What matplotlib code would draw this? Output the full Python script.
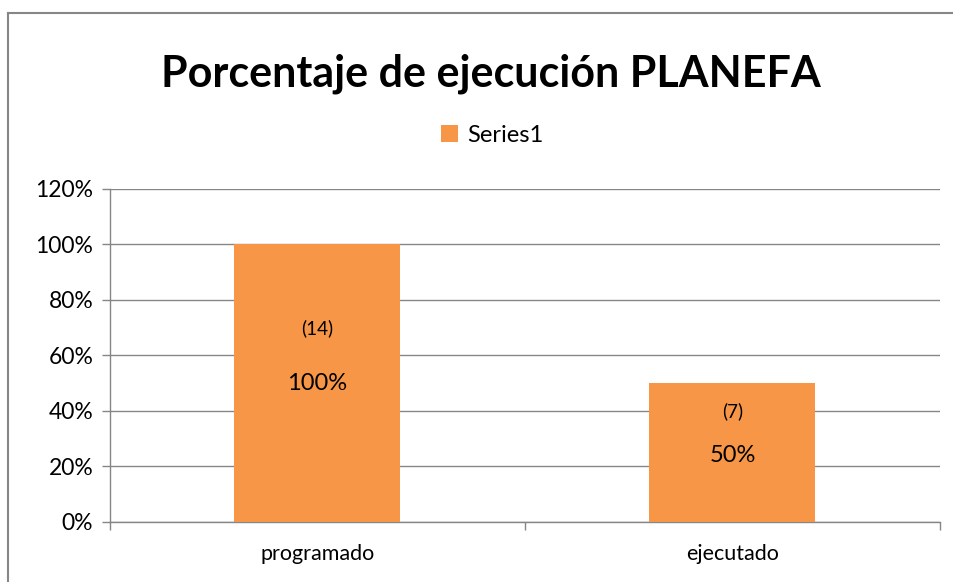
import matplotlib.pyplot as plt
import numpy as np
from matplotlib.lines import Line2D
from matplotlib.ticker import FuncFormatter

categories = ["programado", "ejecutado"]
values = [1.00, 0.50]
counts = ["(14)", "(7)"]
pct_labels = ["100%", "50%"]
# where the two labels sit inside each bar, as share of the bar height
count_pos = [0.70, 0.80]
pct_pos = [0.50, 0.48]
yticks = [0, 0.2, 0.4, 0.6, 0.8, 1.0, 1.2]

plt.rcParams['font.family'] = ['Lato', 'DejaVu Sans']

bar_color = "#F79646"
grey = "#868686"

fig = plt.figure(figsize=(9.54, 5.82), dpi=100)
ax = fig.add_axes([0.1153, 0.1031, 0.87, 0.5722])

x = np.arange(len(categories))
ax.bar(x, values, width=0.4, color=bar_color, zorder=3, label="Series1")

for i in range(len(categories)):
    ax.text(x[i], values[i] * count_pos[i], counts[i], ha="center", va="center",
            fontsize=13.5, color="black", zorder=4)
    ax.text(x[i], values[i] * pct_pos[i], pct_labels[i], ha="center", va="center",
            fontsize=17, color="black", zorder=4)

ax.set_xlim(-0.5, len(categories) - 0.5)
ax.set_ylim(0, 1.2)
ax.set_yticks(yticks)
ax.yaxis.set_major_formatter(FuncFormatter(lambda v, p: f"{v*100:.0f}%"))
ax.grid(axis="y", color=grey, linewidth=1, zorder=0)

ax.set_xticks(x)
ax.set_xticklabels(categories)
ax.set_xticks(np.arange(-0.5, len(categories)), minor=True)
ax.tick_params(axis="x", which="major", length=0, pad=16, labelsize=15.5)
ax.tick_params(axis="x", which="minor", length=6, color=grey, width=1)
ax.tick_params(axis="y", length=6, color=grey, width=1, labelsize=16.5, pad=6)

for s in ["top", "right"]:
    ax.spines[s].set_visible(False)
for s in ["left", "bottom"]:
    ax.spines[s].set_color(grey)
    ax.spines[s].set_linewidth(1)

leg = fig.legend(loc="center", bbox_to_anchor=(0.516, 0.768), frameon=False,
                 fontsize=17, handlelength=0.7, handleheight=0.7, handletextpad=0.4)

fig.text(0.515, 0.874, "Porcentaje de ejecución PLANEFA", ha="center", va="center",
         fontsize=31, fontweight="bold")

# outer chart border (left and top edges visible)
W, H = 954, 582
fig.add_artist(Line2D([8.5 / W, 8.5 / W], [0, (H - 13) / H], color=grey, lw=1.5,
                      transform=fig.transFigure))
fig.add_artist(Line2D([8.5 / W, 1], [(H - 13) / H, (H - 13) / H], color=grey, lw=1.5,
                      transform=fig.transFigure))

fig.savefig("out.png", dpi=100)
